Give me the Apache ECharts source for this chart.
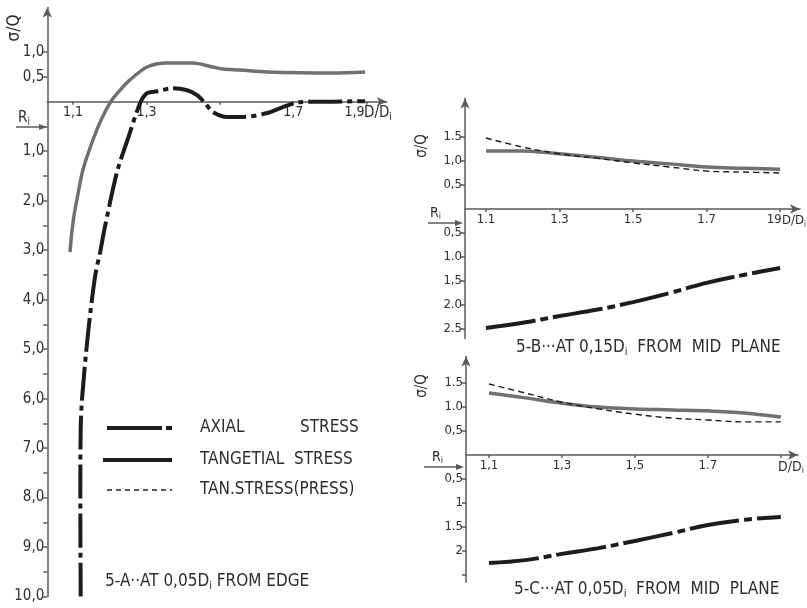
<!DOCTYPE html>
<html><head><meta charset="utf-8">
<script src="https://cdn.jsdelivr.net/npm/echarts@6/dist/echarts.min.js"></script>
<style>html,body{margin:0;padding:0;background:#fff}#c{width:807px;height:608px}</style>
</head><body><div id="c"></div>
<script>
// ---------- Panel 5-A (at 0,05 Di from edge) ----------
const aTangential = [[1.092,-3.04],[1.096,-2.69],[1.103,-2.29],[1.114,-1.85],[1.127,-1.38],[1.154,-0.78],[1.179,-0.33],[1.204,0.01],[1.228,0.23],[1.255,0.44],[1.302,0.70],[1.356,0.78],[1.427,0.78],[1.481,0.70],[1.509,0.66],[1.555,0.64],[1.629,0.60],[1.808,0.58],[1.896,0.60]];
const aAxial = [[1.121,-10.0],[1.120,-8.0],[1.121,-6.6],[1.125,-5.97],[1.141,-4.68],[1.16,-3.54],[1.174,-3.04],[1.187,-2.53],[1.22,-1.42],[1.25,-0.74],[1.283,-0.03],[1.302,0.17],[1.329,0.21],[1.372,0.27],[1.411,0.23],[1.438,0.13],[1.46,-0.03],[1.481,-0.21],[1.52,-0.31],[1.563,-0.31],[1.629,-0.23],[1.672,-0.11],[1.719,-0.01],[1.808,0.0],[1.896,0.01]];
const aXTicks = [1.1,1.3,1.5,1.7,1.9];
const aXLabels = ['1,1','1,3','','1,7','{l|1,9}'];
const aYTicks = [1,0.5,-0.5,-1,-1.5,-2,-2.5,-3,-3.5,-4,-4.5,-5,-5.5,-6,-6.5,-7,-7.5,-8,-8.5,-9,-9.5,-10];
const aYLabelVals = [1,0.5,-1,-2,-3,-4,-5,-6,-7,-8,-9,-10];
const aYLabels = ['1,0','0,5','1,0','2,0','3,0','4,0','5,0','6,0','7,0','8,0','9,0','10,0'];

// ---------- Panel 5-B (at 0,15 Di from mid plane) ----------
const bX = [1.1,1.2,1.3,1.4,1.5,1.6,1.7,1.8,1.9];
const bTangential = [1.21,1.21,1.15,1.08,1.0,0.94,0.875,0.85,0.83];
const bTanPress = [1.48,1.29,1.15,1.06,0.96,0.875,0.79,0.77,0.75];
const bAxial = [-2.48,-2.37,-2.23,-2.1,-1.94,-1.75,-1.54,-1.375,-1.23];
const bXTicks = [1.1,1.3,1.5,1.7,1.9];
const bXLabels = ['1.1','1.3','1.5','1.7','{m|19}'];
const bYTicks = [1.5,1.0,0.5,-0.5,-1,-1.5,-2,-2.5];
const bYLabels = ['1.5','1,0','0,5','0,5','1.0','1,5','2.0','2.5'];

// ---------- Panel 5-C (at 0,05 Di from mid plane) ----------
const cX = [1.1,1.2,1.3,1.4,1.5,1.6,1.7,1.8,1.9];
const cTangential = [1.29,1.19,1.08,1.0,0.96,0.94,0.92,0.875,0.79];
const cTanPress = [1.48,1.29,1.10,0.96,0.85,0.77,0.73,0.69,0.69];
const cAxial = [-2.25,-2.19,-2.06,-1.94,-1.79,-1.63,-1.46,-1.35,-1.29];
const cXTicks = [1.1,1.3,1.5,1.7,1.9];
const cXLabels = ['1,1','1,3','1,5','1.7',''];
const cYTicks = [1.5,1.0,0.5,-0.5,-1,-1.5,-2,-2.5];
const cYLabels = ['1.5','1.0','0,5','0,5','1','1.5','2',''];

const FONT = 'DejaVu Sans Condensed';
const AXC = '#5a5a5a';
const TXT = '#2e2e2e';
const GREY = '#707070';
const BLACK = '#1c1c1c';

function lookup(vals, labs){
  return function(v){
    for (let i=0;i<vals.length;i++){ if (Math.abs(vals[i]-v)<1e-6) return labs[i]; }
    return '';
  };
}
function zip(xs, ys){ return xs.map((x,i)=>[x, ys[i]]); }

const grids = [
  {left:47.3, top:7.6, width:339.5, height:589},
  {left:465, top:98.6, width:335, height:240},
  {left:466, top:356.6, width:332, height:225.6}
];
const yRanges = [[-10,1.9],[-2.7,2.3],[-2.65,2.05]];

function xAxis(gi, min, max, ticks, labels, fs){
  const yr = yRanges[gi];
  const off = -(0 - yr[0])/(yr[1]-yr[0])*grids[gi].height;   // put axis at y = 0
  return {
    type:'value', gridIndex:gi, min:min, max:max, position:'bottom', offset:off, splitLine:{show:false},
    axisLine:{show:true, onZero:false, symbol:['none','arrow'], symbolSize:[7,10], lineStyle:{color:AXC, width:1.5}},
    axisTick:{show:true, customValues:ticks, length:3, lineStyle:{color:AXC, width:1.5}},
    axisLabel:{show:true, customValues:ticks, formatter:lookup(ticks, labels), margin:4,
      fontFamily:FONT, fontSize:fs, color:TXT,
      rich:{l:{fontFamily:FONT, fontSize:fs, color:TXT, padding:[0,24,0,0]},
            m:{fontFamily:FONT, fontSize:fs, color:TXT, padding:[0,12,0,0]}}}
  };
}
function yAxis(gi, ticks, labVals, labels, fs){
  const yr = yRanges[gi];
  return {
    type:'value', gridIndex:gi, min:yr[0], max:yr[1], splitLine:{show:false},
    axisLine:{show:true, onZero:false, symbol:['none','arrow'], symbolSize:[7,10], lineStyle:{color:AXC, width:1.5}},
    axisTick:{show:true, customValues:ticks, length:4, lineStyle:{color:AXC, width:1.5}},
    axisLabel:{show:true, customValues:labVals, formatter:lookup(labVals, labels), margin:3,
      fontFamily:FONT, fontSize:fs, color:TXT}
  };
}

const option = {
  animation:false,
  backgroundColor:'#ffffff',
  grid:grids,
  xAxis:[
    xAxis(0, 1.03, 1.955, aXTicks, aXLabels, 14),
    xAxis(1, 1.043, 1.954, bXTicks, bXLabels, 13),
    xAxis(2, 1.037, 1.947, cXTicks, cXLabels, 13)
  ],
  yAxis:[
    yAxis(0, aYTicks, aYLabelVals, aYLabels, 15),
    yAxis(1, bYTicks, bYTicks, bYLabels, 13),
    yAxis(2, cYTicks, cYTicks, cYLabels, 13)
  ],
  series:[
    {name:'TANGETIAL STRESS', type:'line', xAxisIndex:0, yAxisIndex:0, data:aTangential, smooth:0.3, showSymbol:false,
      lineStyle:{color:GREY, width:3.5}},
    {name:'AXIAL STRESS', type:'line', xAxisIndex:0, yAxisIndex:0, data:aAxial, smooth:0.3, showSymbol:false,
      lineStyle:{color:BLACK, width:4, type:[34,5,5,5]}},
    {name:'TANGETIAL STRESS', type:'line', xAxisIndex:1, yAxisIndex:1, data:zip(bX,bTangential), smooth:0.4, showSymbol:false,
      lineStyle:{color:GREY, width:3.5}},
    {name:'TAN.STRESS(PRESS)', type:'line', xAxisIndex:1, yAxisIndex:1, data:zip(bX,bTanPress), smooth:0.4, showSymbol:false,
      lineStyle:{color:BLACK, width:1.4, type:[6,4]}},
    {name:'AXIAL STRESS', type:'line', xAxisIndex:1, yAxisIndex:1, data:zip(bX,bAxial), smooth:0.4, showSymbol:false,
      lineStyle:{color:BLACK, width:4, type:[50,5,8,5]}},
    {name:'TANGETIAL STRESS', type:'line', xAxisIndex:2, yAxisIndex:2, data:zip(cX,cTangential), smooth:0.4, showSymbol:false,
      lineStyle:{color:GREY, width:3.5}},
    {name:'TAN.STRESS(PRESS)', type:'line', xAxisIndex:2, yAxisIndex:2, data:zip(cX,cTanPress), smooth:0.4, showSymbol:false,
      lineStyle:{color:BLACK, width:1.4, type:[6,4]}},
    {name:'AXIAL STRESS', type:'line', xAxisIndex:2, yAxisIndex:2, data:zip(cX,cAxial), smooth:0.4, showSymbol:false,
      lineStyle:{color:BLACK, width:4, type:[50,5,8,5]}}
  ],
  graphic:[]
};

// annotations (axis names, Ri arrows, captions, legend)
const G = option.graphic;
function txt(x,y,text,fs,extra){
  G.push(Object.assign({type:'text', x:x, y:y, style:{text:text, fontFamily:FONT, fontSize:fs, fill:TXT,
    textVerticalAlign:'middle', rich:{s:{fontFamily:FONT, fontSize:Math.round(fs*0.65), fill:TXT, padding:[Math.round(fs*0.5),0,0,0]}}}}, extra||{}));
}
function arrowRi(x1,x2,y){
  G.push({type:'line', shape:{x1:x1,y1:y,x2:x2-6,y2:y}, style:{stroke:AXC, lineWidth:1.5}});
  G.push({type:'polygon', shape:{points:[[x2-8,y-3],[x2,y],[x2-8,y+3]]}, style:{fill:AXC}});
}
function sigma(x,y,fs){
  G.push({type:'text', x:x, y:y, rotation:Math.PI/2, style:{text:'σ/Q', fontFamily:FONT, fontSize:fs, fill:TXT,
    textAlign:'center', textVerticalAlign:'middle'}});
}
// Panel A
sigma(15,28,17);
txt(18,118,'R{s|i}',15);
arrowRi(16,47,127);
txt(364,113,'D/D{s|i}',15);
// Panel B
sigma(422,146,15);
txt(430,213,'R{s|i}',14);
arrowRi(428,463,223);
txt(782,221,'D/D{s|i}',13);
// Panel C
sigma(422,386,15);
txt(432,457,'R{s|i}',14);
arrowRi(424,464,467);
txt(778,467,'D/D{s|i}',14);
// captions
txt(105,582,'5-A··AT 0,05D{s|i} FROM EDGE',17);
txt(516,348,'5-B···AT 0,15D{s|i}  FROM  MID  PLANE',17);
txt(514,590,'5-C···AT 0,05D{s|i}  FROM  MID  PLANE',17);
// legend
G.push({type:'line', shape:{x1:107,y1:428,x2:162,y2:428}, style:{stroke:BLACK, lineWidth:4}});
G.push({type:'line', shape:{x1:166,y1:428,x2:172,y2:428}, style:{stroke:BLACK, lineWidth:4}});
G.push({type:'line', shape:{x1:103,y1:460,x2:172,y2:460}, style:{stroke:BLACK, lineWidth:4}});
G.push({type:'line', shape:{x1:107,y1:490,x2:172,y2:490}, style:{stroke:BLACK, lineWidth:1.5, lineDash:[5,4]}});
txt(200,428,'AXIAL',17);
txt(300,428,'STRESS',17);
txt(200,460,'TANGETIAL  STRESS',17);
txt(200,490,'TAN.STRESS(PRESS)',17);

const chart = echarts.init(document.getElementById('c'), null, {renderer:'canvas'});
chart.setOption(option);
</script></body></html>
